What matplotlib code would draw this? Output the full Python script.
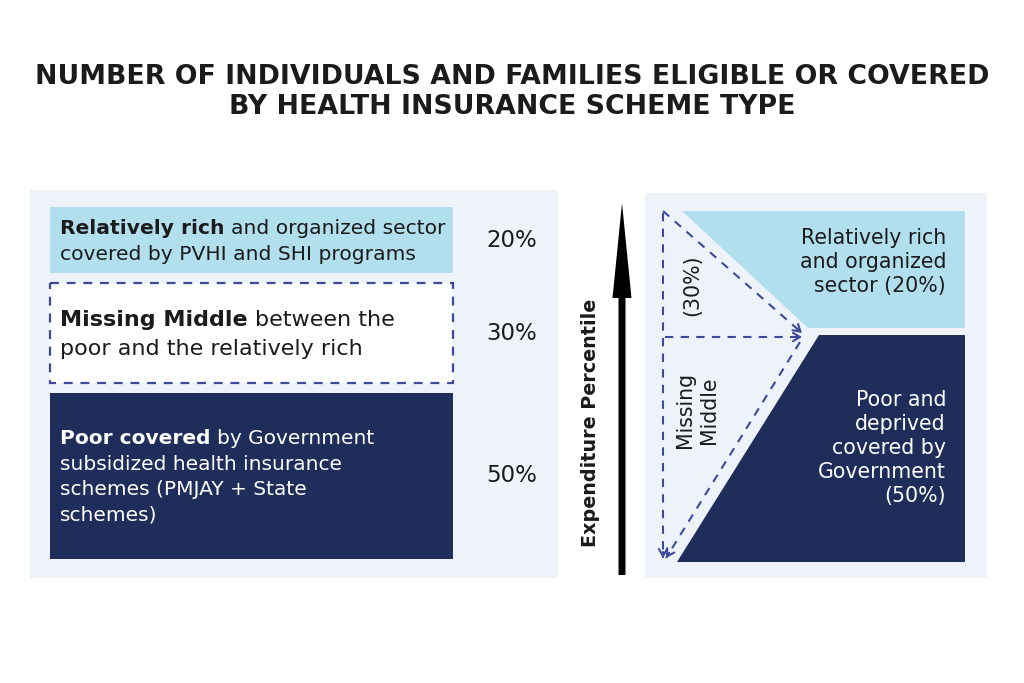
import matplotlib
matplotlib.use("Agg")
import matplotlib.pyplot as plt
from matplotlib.patches import Rectangle, Polygon, FancyArrow

NAVY, SKY, PANEL = "#1f2d5a", "#b2dfee", "#eef3fa"
DASH, INK = "#3c4a9c", "#1b1b1b"
FONT = "DejaVu Sans"

title = "NUMBER OF INDIVIDUALS AND FAMILIES ELIGIBLE OR COVERED\nBY HEALTH INSURANCE SCHEME TYPE"

# groups from top (richest) to bottom (poorest)
shares = [20, 30, 50]
share_labels = ["20%", "30%", "50%"]
bold_parts = ["Relatively rich", "Missing Middle", "Poor covered"]
box_lines = [
    ["and organized sector", "covered by PVHI and SHI programs"],
    ["between the", "poor and the relatively rich"],
    ["by Government", "subsidized health insurance",
     "schemes (PMJAY + State", "schemes)"],
]
right_rich = "Relatively rich\nand organized\nsector (20%)"
right_poor = "Poor and\ndeprived\ncovered by\nGovernment\n(50%)"
right_mid = "Missing\nMiddle"
right_mid_share = "(30%)"
axis_label = "Expenditure Percentile"

fig = plt.figure(figsize=(10.24, 6.83), dpi=100)
ax = fig.add_axes([0, 0, 1, 1])
ax.set_xlim(0, 1024)
ax.set_ylim(683, 0)
ax.axis("off")
renderer = fig.canvas.get_renderer()

ax.text(512, 92, title, ha="center", va="center", fontsize=19.3,
        weight="bold", color=INK, family=FONT, linespacing=1.22)

# ---- left panel: stacked boxes ----
ax.add_patch(Rectangle((30, 190), 528, 388, fc=PANEL, ec="none"))
px_per_pct, gap, top = 3.32, 10, 207
styles = [
    dict(fc=SKY, dashed=False, txt=INK, size=14.6, lsp=26),
    dict(fc="white", dashed=True, txt=INK, size=16, lsp=29),
    dict(fc=NAVY, dashed=False, txt="white", size=14.5, lsp=25.5),
]


def text_w(s, **kw):
    t = ax.text(0, 0, s, **kw)
    w = t.get_window_extent(renderer).width
    t.remove()
    return w


y0 = top
for share, lab, bold, lines, st in zip(shares, share_labels, bold_parts,
                                       box_lines, styles):
    h = share * px_per_pct
    ax.add_patch(Rectangle((50, y0), 403, h, fc=st["fc"], ec="none"))
    if st["dashed"]:
        ax.add_patch(Rectangle((50, y0), 403, h, fill=False, ec=DASH,
                               lw=1.6, ls=(0, (4, 3.5))))
    cy = y0 + h / 2
    n = len(lines)
    kw = dict(fontsize=st["size"], color=st["txt"], family=FONT, va="baseline")
    space = text_w("a a", **kw) - text_w("aa", **kw)
    for i, line in enumerate(lines):
        yb = cy + (i - (n - 1) / 2) * st["lsp"] + st["size"] * 0.45
        x = 60
        if i == 0:
            t = ax.text(x, yb, bold, weight="bold", **kw)
            x += t.get_window_extent(renderer).width + space
        ax.text(x, yb, line, **kw)
    ax.text(512, cy, lab, ha="center", va="center", fontsize=16.5,
            color=INK, family=FONT)
    y0 += h + gap

# ---- vertical axis arrow ----
ax.add_patch(FancyArrow(622, 575, 0, -372, width=7, head_width=19,
                        head_length=95, length_includes_head=True,
                        fc="black", ec="none"))
ax.text(591, 423, axis_label, rotation=90, ha="center", va="center",
        fontsize=13.8, weight="bold", color=INK, family=FONT)

# ---- right panel: diagram ----
ax.add_patch(Rectangle((645, 193), 342, 385, fc=PANEL, ec="none"))
ax.add_patch(Polygon([(682, 211), (965, 211), (965, 328), (808, 328)],
                     closed=True, fc=SKY, ec="none"))
ax.add_patch(Polygon([(819, 335), (965, 335), (965, 562), (677, 562)],
                     closed=True, fc=NAVY, ec="none"))

dashed = [((663, 213), (663, 558)),
          ((663, 211), (802, 333)),
          ((665, 337), (802, 337)),
          ((800, 342), (666, 558))]
for (xa, ya), (xb, yb) in dashed:
    ax.plot([xa, xb], [ya, yb], color=DASH, lw=1.5, ls=(0, (4, 3.5)))
    dx, dy = xb - xa, yb - ya
    ln = (dx ** 2 + dy ** 2) ** 0.5
    ax.annotate("", xy=(xb, yb), xytext=(xb - dx / ln * 6, yb - dy / ln * 6),
                arrowprops=dict(arrowstyle="->,head_length=0.5,head_width=0.3",
                                color=DASH, lw=1.5, shrinkA=0, shrinkB=0))

ax.text(946, 262, right_rich, ha="right", va="center", fontsize=14.8,
        color=INK, family=FONT, linespacing=1.28)
ax.text(946, 448, right_poor, ha="right", va="center", fontsize=14.8,
        color="white", family=FONT, linespacing=1.25)
ax.text(692, 285, right_mid_share, rotation=90, ha="center", va="center",
        fontsize=14.8, color=INK, family=FONT)
ax.text(697, 410, right_mid, rotation=90, ha="center", va="center",
        fontsize=14.8, color=INK, family=FONT, linespacing=1.3)

fig.savefig("out.png", dpi=100, facecolor="white")
